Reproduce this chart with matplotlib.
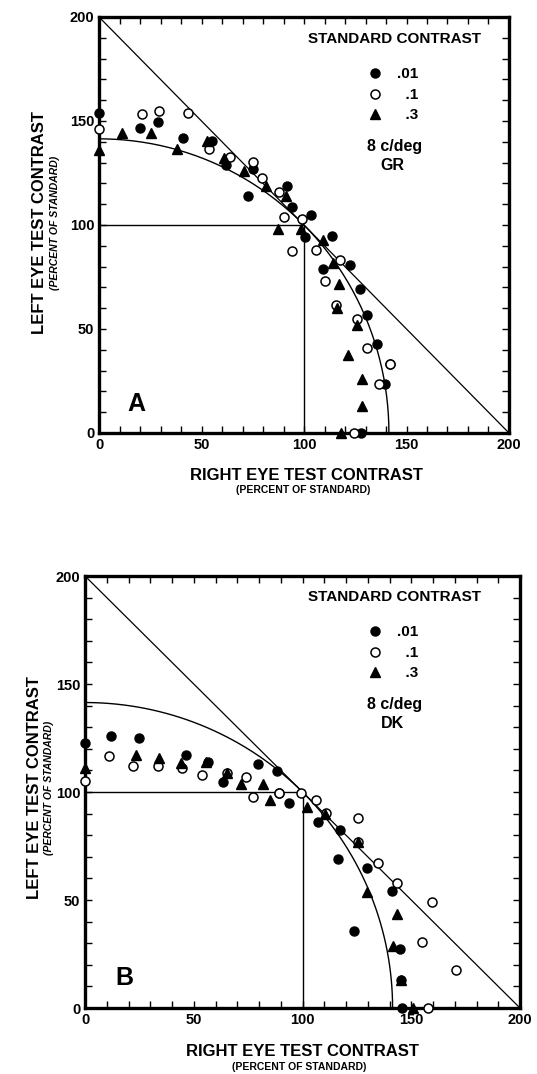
import numpy as np
import matplotlib

matplotlib.use("Agg")
import matplotlib.pyplot as plt

plt.rcParams["font.family"] = ["Liberation Sans", "DejaVu Sans"]

W, H = 537, 1074

# panel A (subject GR): right eye %, left eye % per standard contrast
gr_01_x = [0, 20, 28.6, 40.8, 55, 62, 75.3, 72.8, 91.6, 94.3, 103.3, 100.5, 113.5,
           122.4, 109.4, 127.3, 130.9, 135.5, 142, 139.5, 127.9]
gr_01_y = [153.7, 146.8, 149.7, 142, 140.4, 128.8, 126.7, 113.9, 118.7, 108.8, 104.6,
           94.3, 94.6, 81, 78.9, 69.3, 56.9, 42.7, 33.3, 23.4, 0]
gr_1_x = [0, 20.8, 29.3, 43.4, 53.7, 63.9, 75.3, 79.7, 87.8, 90.2, 99.2, 94.1, 105.9,
          117.6, 110.2, 115.6, 125.7, 130.6, 142, 136.7, 124.4]
gr_1_y = [146, 153.3, 154.7, 153.7, 136.7, 132.9, 130.3, 122.7, 116, 104, 103, 87.4,
          87.9, 83.4, 72.9, 61.7, 54.9, 40.8, 33.3, 23.4, 0]
gr_3_x = [0, 11.1, 25.4, 37.9, 52.5, 61, 70.7, 81.3, 91, 87.5, 98.5, 109.1, 114.3,
          117.2, 116.3, 126, 121.3, 128.1, 128.4, 118]
gr_3_y = [136, 144.4, 144.4, 136.4, 140.4, 132.4, 126, 118.7, 114, 98.2, 98.2, 92.7,
          81.8, 71.8, 60.1, 51.7, 37.6, 25.9, 13.2, 0]

# panel B (subject DK)
dk_01_x = [0, 11.8, 24.8, 46.4, 56.4, 63.3, 79.4, 88.4, 89.3, 93.9, 107.3, 117.2,
           116.5, 129.5, 141, 123.7, 144.8, 145.3, 145.6]
dk_01_y = [122.8, 125.9, 124.8, 117.1, 114, 104.8, 112.8, 109.7, 99.4, 94.8, 86.3,
           82.4, 69, 64.7, 54.3, 35.6, 27.2, 13, 0]
dk_1_x = [0, 11.2, 21.9, 33.4, 44.5, 53.9, 65.4, 74, 77.1, 89.3, 99.2, 106.2, 110.8,
          125.4, 125.7, 134.9, 143.6, 159.7, 155.1, 170.4, 157.6]
dk_1_y = [105.2, 116.7, 112.2, 112, 111, 107.9, 108.6, 107, 97.8, 99.4, 99.4, 96.3,
          90.1, 87.8, 76.7, 67.3, 58, 49.1, 30.4, 17.5, 0]
dk_3_x = [0, 23.4, 34, 44.1, 55.6, 65.1, 71.7, 82, 85, 101.9, 110.3, 125.7, 129.5,
          143.3, 141.7, 145.3, 151]
dk_3_y = [111, 117.1, 115.6, 113.6, 114, 108.6, 103.6, 103.7, 96.3, 93.2, 89.8, 76.7,
          53.6, 43.5, 28.7, 13, 0]

contrast_labels = [".01", "  .1", "  .3"]
STANDARD = 100  # percent of standard
AXIS_MAX = 200


def fx(px):
    return px / W


def fy(py):
    return 1 - py / H


def panel(fig, rect, series, subject, letter, legend_px, ylab_px, xlab_px):
    ax = fig.add_axes(rect)
    ax.set_xlim(0, AXIS_MAX)
    ax.set_ylim(0, AXIS_MAX)

    # summation line, vector-sum circle, independence box
    ax.plot([0, AXIS_MAX], [AXIS_MAX, 0], color="black", lw=0.9)
    r = np.sqrt(2) * STANDARD
    th = np.linspace(0, np.pi / 2, 200)
    ax.plot(r * np.cos(th), r * np.sin(th), color="black", lw=1.0)
    ax.plot([0, STANDARD, STANDARD], [STANDARD, STANDARD, 0], color="black", lw=1.0)

    styles = [dict(marker="o", mfc="black", mec="black", ms=6.5),
              dict(marker="o", mfc="white", mec="black", ms=6.5, mew=1.1),
              dict(marker="^", mfc="black", mec="black", ms=7)]
    handles = []
    for (xs, ys), st, lab in zip(series, styles, contrast_labels):
        h, = ax.plot(xs, ys, ls="none", clip_on=False, zorder=3, label=lab, **st)
        handles.append(h)

    ax.set_xticks(range(0, AXIS_MAX + 1, 50))
    ax.set_yticks(range(0, AXIS_MAX + 1, 50))
    ax.set_xticks(range(0, AXIS_MAX + 1, 10), minor=True)
    ax.set_yticks(range(0, AXIS_MAX + 1, 10), minor=True)
    ax.tick_params(which="both", direction="in", top=True, right=True,
                   length=5, width=1.0, labelsize=10.5, pad=3.5)
    for t in ax.get_xticklabels() + ax.get_yticklabels():
        t.set_fontweight("bold")
    for s in ax.spines.values():
        s.set_linewidth(2.4)

    lx, ly = legend_px
    fig.text(fx(lx + 20), fy(ly - 38), "STANDARD CONTRAST", ha="center", va="center",
             fontsize=11, fontweight="bold")
    ax.legend(handles=handles, loc="upper left", frameon=False,
              bbox_to_anchor=(fx(lx - 7), fy(ly - 9.5)), bbox_transform=fig.transFigure,
              borderpad=0, borderaxespad=0, handlelength=0.95, handletextpad=0.95,
              labelspacing=0.42, prop=dict(size=11, weight="bold"))
    fig.text(fx(lx + 20), fy(ly + 69), "8 c/deg", ha="center", va="center",
             fontsize=11.5, fontweight="bold")
    fig.text(fx(lx + 17), fy(ly + 89), subject, ha="center", va="center",
             fontsize=11.5, fontweight="bold")

    yx, yy, ysub = ylab_px
    fig.text(fx(yx), fy(yy), "LEFT EYE TEST CONTRAST", rotation=90, ha="center",
             va="center", fontsize=12, fontweight="bold")
    fig.text(fx(ysub), fy(yy), "(PERCENT OF STANDARD)", rotation=90, ha="center",
             va="center", fontsize=7.5, fontweight="bold", style="italic")
    xx, xy = xlab_px
    fig.text(fx(xx), fy(xy), "RIGHT EYE TEST CONTRAST", ha="center", va="center",
             fontsize=12, fontweight="bold")
    fig.text(fx(xx - 3), fy(xy + 15), "(PERCENT OF STANDARD)", ha="center",
             va="center", fontsize=7.5, fontweight="bold")

    ax.text(0.09, 0.07, letter, transform=ax.transAxes, fontsize=18,
            fontweight="bold", ha="center", va="center")
    return ax


fig = plt.figure(figsize=(W / 100, H / 100), dpi=100)

panel(fig, [fx(99), fy(433), 410 / W, 416 / H],
      [(gr_01_x, gr_01_y), (gr_1_x, gr_1_y), (gr_3_x, gr_3_y)],
      "GR", "A", (375, 77), (40, 223, 55), (306, 475))

panel(fig, [fx(85), fy(1008), 435 / W, 432 / H],
      [(dk_01_x, dk_01_y), (dk_1_x, dk_1_y), (dk_3_x, dk_3_y)],
      "DK", "B", (375, 635), (35, 788, 49), (302, 1052))

fig.savefig("out.png", dpi=100)
